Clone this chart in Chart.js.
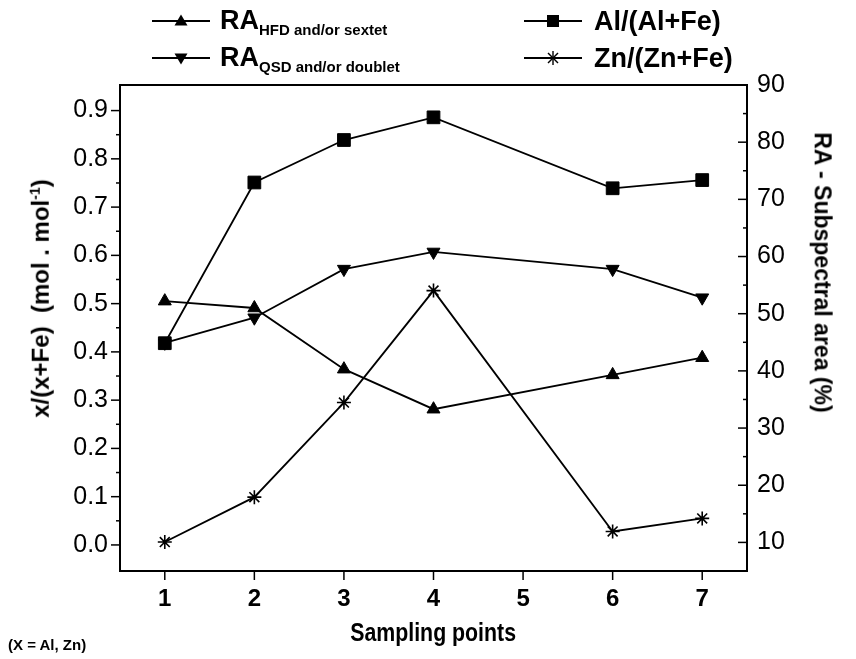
<!DOCTYPE html>
<html>
<head>
<meta charset="utf-8">
<script src="https://cdn.jsdelivr.net/npm/chart.js@4/dist/chart.umd.min.js"></script>
<style>
  html, body { margin: 0; padding: 0; background: #fff; }
  #wrap { position: relative; width: 856px; height: 659px; font-family: "Liberation Sans", Arial, sans-serif; color: #000; overflow: hidden; }
  #c { position: absolute; left: 0; top: 0; }
  .t { position: absolute; white-space: nowrap; font-weight: bold; line-height: 1; }
  .leg { position: absolute; white-space: nowrap; font-weight: bold; line-height: 1; }
  .leg .big { font-size: 27px; }
  .leg sub { font-size: 15px; vertical-align: -6px; }
</style>
</head>
<body>
<div id="wrap">
  <canvas id="c" width="856" height="659"></canvas>

  <!-- legend -->
  <svg id="legsym" width="856" height="80" style="position:absolute;left:0;top:0"></svg>
  <div class="leg" style="left:220px;top:7px"><span class="big">RA</span><sub>HFD and/or sextet</sub></div>
  <div class="leg" style="left:220px;top:44px"><span class="big">RA</span><sub>QSD and/or doublet</sub></div>
  <div class="leg" style="left:594px;top:8px"><span class="big">Al/(Al+Fe)</span></div>
  <div class="leg" style="left:594px;top:45px"><span class="big">Zn/(Zn+Fe)</span></div>

  <!-- axis titles -->
  <div class="t" id="ytitle" style="font-size:24px;">x/(x+Fe)&nbsp; (mol . mol<sup style="font-size:14px;vertical-align:9px">-1</sup>)</div>
  <div class="t" id="y1title" style="font-size:23px;">RA - Subspectral area (%)</div>
  <div class="t" id="xtitle" style="font-size:26px;">Sampling points</div>
  <div class="t" style="left:8px;top:637px;font-size:15px;">(X = Al, Zn)</div>
</div>

<script>
// Sampling points along the x axis (no sample at point 5)
const samplingPoints = [1, 2, 3, 4, 6, 7];

// Molar ratios, left axis
const alRatio = [0.418, 0.751, 0.839, 0.886, 0.739, 0.756];
const znRatio = [0.006, 0.099, 0.295, 0.527, 0.028, 0.055];

// Relative subspectral areas (%), right axis
const raHFD = [52.2, 51.0, 40.3, 33.3, 39.3, 42.3];
const raQSD = [44.9, 49.3, 57.8, 60.8, 57.8, 52.8];

// Tick labels
const xTickLabels = ['1', '2', '3', '4', '5', '6', '7'];
const yTickLabels = ['0.0', '0.1', '0.2', '0.3', '0.4', '0.5', '0.6', '0.7', '0.8', '0.9'];
const y1TickLabels = ['10', '20', '30', '40', '50', '60', '70', '80', '90'];

const pts = (ys) => samplingPoints.map((x, i) => ({ x, y: ys[i] }));

// Frame, major and minor tick marks
const frameTicks = {
  id: 'frameTicks',
  afterDraw(chart) {
    const { ctx, chartArea: a, scales } = chart;
    ctx.save();
    ctx.strokeStyle = '#000';
    ctx.lineWidth = 2;
    ctx.strokeRect(a.left, a.top, a.right - a.left, a.bottom - a.top);
    ctx.lineWidth = 1.5;
    const seg = (x1, y1, x2, y2) => { ctx.beginPath(); ctx.moveTo(x1, y1); ctx.lineTo(x2, y2); ctx.stroke(); };
    scales.x.ticks.forEach((t, i) => {
      if (!t.label) return;
      const p = scales.x.getPixelForTick(i);
      seg(p, a.bottom, p, a.bottom + 9);
    });
    scales.y.ticks.forEach((t, i) => {
      const p = scales.y.getPixelForTick(i);
      if (p < a.top + 3 || p > a.bottom - 3) return;
      const len = t.label ? 9 : 4;
      seg(a.left - len, p, a.left, p);
    });
    scales.y1.ticks.forEach((t, i) => {
      const p = scales.y1.getPixelForTick(i);
      if (p < a.top + 3 || p > a.bottom - 3) return;
      const len = t.label ? 9 : 4;
      seg(a.right - len, p, a.right, p);
    });
    ctx.restore();
  }
};

const common = {
  borderColor: '#000',
  backgroundColor: '#000',
  pointBackgroundColor: '#000',
  pointBorderColor: '#000',
  borderWidth: 1.8,
  showLine: true,
  tension: 0,
};

const chart = new Chart(document.getElementById('c'), {
  type: 'scatter',
  data: {
    datasets: [
      { ...common, label: 'Al/(Al+Fe)', data: pts(alRatio), yAxisID: 'y', pointStyle: 'rect', pointRadius: 9, pointBorderWidth: 1, order: 0 },
      { ...common, label: 'Zn/(Zn+Fe)', data: pts(znRatio), yAxisID: 'y', pointStyle: 'star', pointRadius: 7, pointBorderWidth: 1.6, order: 1 },
      { ...common, label: 'RA HFD and/or sextet', data: pts(raHFD), yAxisID: 'y1', pointStyle: 'triangle', pointRadius: 7.5, pointBorderWidth: 1, order: 2 },
      { ...common, label: 'RA QSD and/or doublet', data: pts(raQSD), yAxisID: 'y1', pointStyle: 'triangle', pointRotation: 180, pointRadius: 7.5, pointBorderWidth: 1, order: 3 },
    ]
  },
  options: {
    responsive: false,
    animation: false,
    devicePixelRatio: 1,
    layout: { padding: { top: 85, left: 0, right: 0, bottom: 0 } },
    plugins: { legend: { display: false }, tooltip: { enabled: false } },
    scales: {
      x: {
        type: 'linear', position: 'bottom', min: 0.5, max: 7.5,
        grid: { display: false, drawTicks: false },
        border: { display: false },
        ticks: {
          stepSize: 0.5, includeBounds: false, autoSkip: false, maxRotation: 0, minRotation: 0, padding: 14, color: '#000',
          font: { family: "'Liberation Sans', sans-serif", size: 24, weight: 'bold' },
          callback: (v) => xTickLabels.includes(String(v)) ? String(v) : ''
        },
        afterFit: (s) => { s.height = 88; }
      },
      y: {
        type: 'linear', position: 'left', min: -0.054, max: 0.953,
        grid: { display: false, drawTicks: false },
        border: { display: false },
        ticks: {
          stepSize: 0.05, includeBounds: false, autoSkip: false, padding: 12, color: '#000',
          font: { family: "'Liberation Sans', sans-serif", size: 25 },
          callback: (v) => { const s = (Math.round(v * 100) / 100).toFixed(1); return (Math.round(v * 100) % 10 === 0 && yTickLabels.includes(s)) ? s : ''; }
        },
        afterFit: (s) => { s.width = 120; }
      },
      y1: {
        type: 'linear', position: 'right', min: 5, max: 90,
        grid: { display: false, drawTicks: false },
        border: { display: false },
        ticks: {
          stepSize: 5, includeBounds: false, autoSkip: false, padding: 10, color: '#000',
          font: { family: "'Liberation Sans', sans-serif", size: 25 },
          callback: (v) => y1TickLabels.includes(String(v)) ? String(v) : ''
        },
        afterFit: (s) => { s.width = 109; }
      }
    }
  },
  plugins: [frameTicks]
});

// Legend symbols (line + marker)
(function () {
  const svg = document.getElementById('legsym');
  const ns = 'http://www.w3.org/2000/svg';
  const add = (tag, attrs) => { const e = document.createElementNS(ns, tag); for (const k in attrs) e.setAttribute(k, attrs[k]); svg.appendChild(e); };
  const line = (x1, x2, y) => add('line', { x1, x2, y1: y, y2: y, stroke: '#000', 'stroke-width': 1.8 });
  // RA HFD: up triangle
  line(152, 210, 21); add('polygon', { points: '181,14.5 187.5,25.5 174.5,25.5', fill: '#000' });
  // RA QSD: down triangle
  line(152, 210, 58); add('polygon', { points: '181,64.5 187.5,53.5 174.5,53.5', fill: '#000' });
  // Al: square
  line(524, 582, 21); add('rect', { x: 547, y: 15, width: 12, height: 12, fill: '#000' });
  // Zn: asterisk
  line(524, 582, 58);
  [[553, 51, 553, 65], [546, 58, 560, 58], [548, 53, 558, 63], [558, 53, 548, 63]].forEach(([a, b, c, d]) => add('line', { x1: a, y1: b, x2: c, y2: d, stroke: '#000', 'stroke-width': 1.4 }));

  // Place axis titles about their centres
  const place = (id, cx, cy, tf) => {
    const el = document.getElementById(id);
    const w = el.offsetWidth, h = el.offsetHeight;
    el.style.left = (cx - w / 2) + 'px';
    el.style.top = (cy - h / 2) + 'px';
    el.style.transformOrigin = '50% 50%';
    el.style.transform = tf;
  };
  place('ytitle', 40, 298, 'rotate(-90deg)');
  place('y1title', 822, 272, 'rotate(90deg)');
  place('xtitle', 433, 632, 'scaleX(0.82)');
})();
</script>
</body>
</html>
